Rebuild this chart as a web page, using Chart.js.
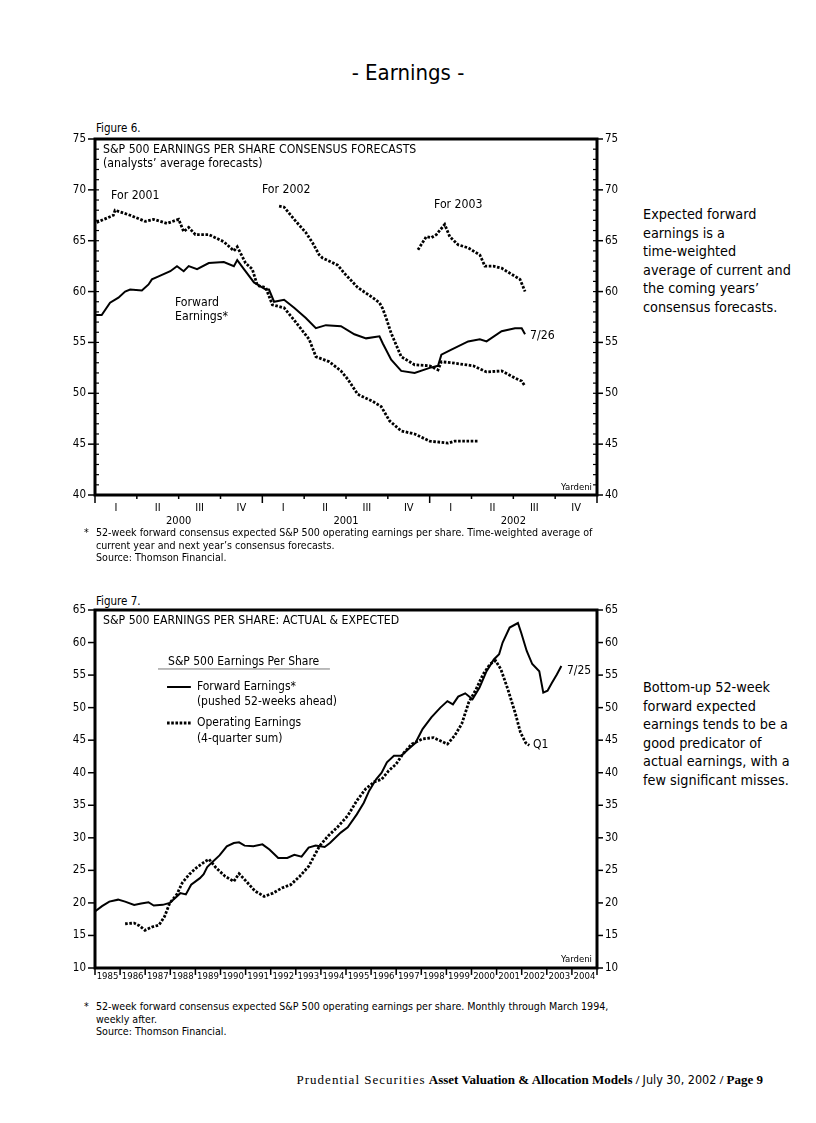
<!DOCTYPE html>
<html>
<head>
<meta charset="utf-8">
<script src="https://cdn.jsdelivr.net/npm/chart.js@4.4.0/dist/chart.umd.min.js"></script>
<style>
  body { margin: 0; background: #fff; color: #000; width: 816px; height: 1123px; position: relative;
         font-family: 'Liberation Sans Narrow', 'DejaVu Sans Condensed', 'Roboto Condensed', sans-serif; }
  .abs { position: absolute; white-space: nowrap; }
  .page-title { left: 0; width: 816px; top: 60px; text-align: center; font-size: 22px; line-height: 26px; }
  .fig-label { left: 96px; font-size: 11.5px; line-height: 14px; }
  .note { left: 84px; font-size: 10.6px; line-height: 12.5px; }
  .note span { display: inline-block; width: 12px; }
  .note div { padding-left: 12px; }
  .side { left: 643px; font-size: 14.3px; line-height: 18.6px; }
  .footer { right: 53px; top: 1072px; font-family: 'Liberation Serif', 'DejaVu Serif', serif; font-size: 13px; line-height: 16px; }
  .footer .sp { letter-spacing: 1px; }
  .footer .nar { font-family: 'Liberation Sans Narrow', 'DejaVu Sans Condensed', sans-serif; font-size: 12.5px; }
  canvas { position: absolute; left: 40px; }
</style>
</head>
<body>
<div class="abs page-title">- Earnings -</div>

<div class="abs fig-label" style="top:121px">Figure 6.</div>
<canvas id="fig6" width="600" height="420" style="top:120px"></canvas>
<div class="abs note" style="top:526px">
  <span>*</span>52-week forward consensus expected S&amp;P 500 operating earnings per share. Time-weighted average of
  <div>current year and next year’s consensus forecasts.</div>
  <div>Source: Thomson Financial.</div>
</div>

<div class="abs fig-label" style="top:594px">Figure 7.</div>
<canvas id="fig7" width="600" height="400" style="top:590px"></canvas>
<div class="abs note" style="top:1000px">
  <span>*</span>52-week forward consensus expected S&amp;P 500 operating earnings per share. Monthly through March 1994,
  <div>weekly after.</div>
  <div>Source: Thomson Financial.</div>
</div>

<div class="abs side" style="top:205px">Expected forward<br>earnings is a<br>time-weighted<br>average of current and<br>the coming years’<br>consensus forecasts.</div>
<div class="abs side" style="top:678px">Bottom-up 52-week<br>forward expected<br>earnings tends to be a<br>good predicator of<br>actual earnings, with a<br>few significant misses.</div>

<div class="abs footer"><span class="sp">Prudential Securities</span> <b>Asset Valuation &amp; Allocation Models /</b> <span class="nar">July 30, 2002</span> <b>/ Page 9</b></div>

<script>
// ---- Figure 6 data (x = fractional year) ----
const quarterLabels = ['I', 'II', 'III', 'IV'];
const fig6Years = ['2000', '2001', '2002'];

const for2001Dates = [2000.01, 2000.11, 2000.12, 2000.21, 2000.30, 2000.35, 2000.43, 2000.50, 2000.53, 2000.56, 2000.60, 2000.68, 2000.77, 2000.83, 2000.85, 2000.90, 2000.94, 2000.97, 2001.02, 2001.06, 2001.13, 2001.19, 2001.28, 2001.32, 2001.40, 2001.47, 2001.51, 2001.57, 2001.66, 2001.71, 2001.76, 2001.83, 2001.91, 2002.00, 2002.11, 2002.15, 2002.29];
const for2001Values = [66.8, 67.5, 68.0, 67.5, 66.9, 67.1, 66.7, 67.1, 65.9, 66.3, 65.6, 65.6, 64.9, 64.0, 64.4, 62.8, 62.2, 60.6, 60.4, 58.7, 58.4, 57.2, 55.3, 53.6, 53.1, 52.2, 51.4, 49.9, 49.2, 48.7, 47.3, 46.3, 46.0, 45.3, 45.1, 45.3, 45.3];

const for2002Dates = [2001.10, 2001.13, 2001.17, 2001.19, 2001.26, 2001.30, 2001.34, 2001.36, 2001.45, 2001.49, 2001.57, 2001.66, 2001.70, 2001.72, 2001.74, 2001.77, 2001.83, 2001.91, 2002.00, 2002.05, 2002.07, 2002.13, 2002.26, 2002.34, 2002.43, 2002.51, 2002.55, 2002.57];
const for2002Values = [68.4, 68.3, 67.5, 67.1, 65.8, 64.8, 63.6, 63.3, 62.6, 61.8, 60.4, 59.4, 58.9, 58.3, 57.4, 55.9, 53.6, 52.8, 52.7, 52.3, 53.1, 53.0, 52.7, 52.1, 52.2, 51.5, 51.2, 50.7];

const for2003Dates = [2001.93, 2001.98, 2002.01, 2002.04, 2002.09, 2002.12, 2002.17, 2002.23, 2002.30, 2002.33, 2002.38, 2002.43, 2002.51, 2002.54, 2002.57];
const for2003Values = [64.1, 65.4, 65.3, 65.6, 66.6, 65.4, 64.6, 64.3, 63.6, 62.5, 62.5, 62.3, 61.5, 61.2, 60.0];

const fwd6Dates = [2000.00, 2000.04, 2000.09, 2000.14, 2000.18, 2000.21, 2000.28, 2000.32, 2000.34, 2000.38, 2000.45, 2000.49, 2000.53, 2000.56, 2000.61, 2000.68, 2000.77, 2000.83, 2000.85, 2000.89, 2000.95, 2001.02, 2001.04, 2001.07, 2001.13, 2001.19, 2001.26, 2001.32, 2001.38, 2001.47, 2001.55, 2001.62, 2001.70, 2001.72, 2001.77, 2001.83, 2001.91, 2002.00, 2002.05, 2002.07, 2002.13, 2002.23, 2002.30, 2002.34, 2002.43, 2002.51, 2002.55, 2002.57];
const fwd6Values = [57.7, 57.7, 58.9, 59.4, 60.0, 60.2, 60.1, 60.7, 61.2, 61.5, 62.0, 62.5, 62.0, 62.5, 62.2, 62.8, 62.9, 62.5, 63.1, 62.2, 60.9, 60.2, 60.2, 59.0, 59.2, 58.4, 57.4, 56.4, 56.7, 56.6, 55.8, 55.4, 55.6, 54.9, 53.3, 52.2, 52.0, 52.5, 52.7, 53.8, 54.3, 55.1, 55.3, 55.1, 56.1, 56.4, 56.4, 55.8];

// ---- Figure 7 data ----
const fig7Years = ['1985', '1986', '1987', '1988', '1989', '1990', '1991', '1992', '1993', '1994', '1995', '1996', '1997', '1998', '1999', '2000', '2001', '2002', '2003', '2004'];

const fwd7Dates = [1985.0, 1985.28, 1985.57, 1985.92, 1986.2, 1986.56, 1986.84, 1987.13, 1987.34, 1987.7, 1987.98, 1988.26, 1988.4, 1988.62, 1988.83, 1989.18, 1989.33, 1989.47, 1989.68, 1989.96, 1990.25, 1990.53, 1990.74, 1990.96, 1991.31, 1991.67, 1991.95, 1992.3, 1992.66, 1992.94, 1993.23, 1993.51, 1993.79, 1994.15, 1994.36, 1994.79, 1995.07, 1995.43, 1995.71, 1995.92, 1996.2, 1996.42, 1996.63, 1996.91, 1997.2, 1997.48, 1997.77, 1998.05, 1998.4, 1998.76, 1999.04, 1999.26, 1999.47, 1999.75, 2000.04, 2000.32, 2000.6, 2000.89, 2001.1, 2001.24, 2001.52, 2001.85, 2001.98, 2002.2, 2002.42, 2002.7, 2002.86, 2003.03, 2003.2, 2003.4, 2003.58];
const fwd7Values = [18.7, 19.5, 20.2, 20.5, 20.2, 19.7, 19.9, 20.1, 19.6, 19.7, 20.0, 21.0, 21.5, 21.3, 22.8, 23.8, 24.4, 25.5, 26.3, 27.3, 28.7, 29.2, 29.3, 28.8, 28.7, 29.0, 28.2, 26.9, 26.9, 27.4, 27.1, 28.5, 28.8, 28.6, 29.2, 30.8, 31.6, 33.6, 35.4, 37.2, 39.0, 40.0, 41.6, 42.6, 42.6, 43.6, 44.6, 46.7, 48.5, 50.0, 51.0, 50.5, 51.7, 52.2, 51.3, 53.1, 55.6, 57.4, 58.2, 60.0, 62.3, 63.0, 61.5, 58.7, 56.7, 55.6, 52.3, 52.6, 53.8, 55.1, 56.4];

const oper7Dates = [1986.2, 1986.56, 1986.77, 1986.99, 1987.27, 1987.55, 1987.77, 1987.98, 1988.26, 1988.48, 1988.76, 1989.04, 1989.4, 1989.54, 1989.82, 1990.18, 1990.53, 1990.74, 1991.03, 1991.38, 1991.74, 1992.09, 1992.45, 1992.8, 1993.16, 1993.51, 1993.94, 1994.29, 1994.65, 1995.07, 1995.43, 1995.78, 1996.13, 1996.42, 1996.7, 1996.99, 1997.27, 1997.62, 1998.05, 1998.48, 1998.76, 1999.04, 1999.33, 1999.61, 1999.89, 2000.18, 2000.46, 2000.74, 2000.96, 2001.17, 2001.45, 2001.74, 2001.95, 2002.16, 2002.3];
const oper7Values = [16.8, 16.9, 16.5, 15.8, 16.3, 16.6, 17.9, 20.0, 21.3, 23.1, 24.4, 25.4, 26.4, 26.7, 25.4, 24.1, 23.3, 24.5, 23.3, 21.8, 21.0, 21.5, 22.3, 22.8, 24.1, 25.6, 28.7, 30.3, 31.6, 33.4, 35.7, 37.5, 38.6, 39.0, 40.3, 41.3, 42.9, 44.4, 45.2, 45.4, 44.9, 44.4, 45.7, 47.5, 50.8, 52.8, 55.1, 56.7, 57.2, 55.9, 52.8, 49.2, 46.2, 44.6, 44.2];

const FONT = "'Liberation Sans Narrow', 'DejaVu Sans Condensed', 'Roboto Condensed', sans-serif";
Chart.defaults.font.family = FONT;
Chart.defaults.color = '#000';

function pts(xs, ys) {
    return xs.map((x, i) => ({ x: x, y: ys[i] }));
}

function solid(label, xs, ys) {
    return { label, data: pts(xs, ys), borderColor: '#000', borderWidth: 2, pointRadius: 0, tension: 0, fill: false };
}

function dotted(label, xs, ys) {
    return { label, data: pts(xs, ys), borderColor: '#000', borderWidth: 2.8, borderDash: [2.6, 1.6], pointRadius: 0, tension: 0, fill: false };
}

// frame, tick marks and in-chart text, all placed through the chart scales
const decorPlugin = {
    id: 'decor',
    afterDatasetsDraw(chart, args, opts) {
        const { ctx, chartArea: a, scales } = chart;
        const xs = scales.x, ys = scales.y;
        const line = (x1, y1, x2, y2) => { ctx.beginPath(); ctx.moveTo(x1, y1); ctx.lineTo(x2, y2); ctx.stroke(); };
        ctx.save();
        ctx.strokeStyle = '#000';
        ctx.lineWidth = 1.2;
        if (opts.minorStep) {
            for (let v = ys.min; v <= ys.max; v += opts.minorStep) {
                const py = ys.getPixelForValue(v);
                line(a.left, py, a.left + 4, py);
                line(a.right - 4, py, a.right, py);
            }
        }
        ctx.lineWidth = 1.5;
        for (let v = ys.min; v <= ys.max; v += opts.majorStep) {
            const py = ys.getPixelForValue(v);
            line(a.left - 7, py, a.left, py);
            line(a.right, py, a.right + 6, py);
        }
        opts.xTicks.forEach(t => {
            const px = xs.getPixelForValue(t.v);
            line(px, a.bottom, px, a.bottom + t.len);
        });
        ctx.lineWidth = 3;
        ctx.strokeRect(a.left, a.top, a.right - a.left, a.bottom - a.top);

        // legend samples
        (opts.samples || []).forEach(s => {
            ctx.lineWidth = s.dash ? 2.8 : 2;
            ctx.setLineDash(s.dash || []);
            line(xs.getPixelForValue(s.x1), ys.getPixelForValue(s.y), xs.getPixelForValue(s.x2), ys.getPixelForValue(s.y));
            ctx.setLineDash([]);
        });
        (opts.rules || []).forEach(s => {
            ctx.lineWidth = 1;
            ctx.strokeStyle = '#777';
            line(xs.getPixelForValue(s.x1), ys.getPixelForValue(s.y), xs.getPixelForValue(s.x2), ys.getPixelForValue(s.y));
            ctx.strokeStyle = '#000';
        });

        ctx.fillStyle = '#000';
        ctx.textBaseline = 'middle';
        (opts.notes || []).forEach(n => {
            ctx.font = n.size + 'px ' + FONT;
            ctx.textAlign = n.align || 'left';
            ctx.fillText(n.text, xs.getPixelForValue(n.x), ys.getPixelForValue(n.y));
        });
        ctx.restore();
    }
};

function fixWidth(w) { return scale => { scale.width = w; }; }
function fixHeight(h) { return scale => { scale.height = h; }; }
function setTicks(values) { return scale => { scale.ticks = values.map(v => ({ value: v })); }; }

// ---------- Figure 6 ----------
const q6Mid = [], q6Edges = [];
for (let i = 0; i < 12; i++) q6Mid.push(2000 + i * 0.25 + 0.125);
for (let i = 0; i <= 12; i++) q6Edges.push({ v: 2000 + i * 0.25, len: i % 4 === 0 ? 8 : 4 });

new Chart(document.getElementById('fig6'), {
    type: 'line',
    data: {
        datasets: [
            dotted('For 2001', for2001Dates, for2001Values),
            dotted('For 2002', for2002Dates, for2002Values),
            dotted('For 2003', for2003Dates, for2003Values),
            solid('Forward Earnings', fwd6Dates, fwd6Values)
        ]
    },
    options: {
        responsive: false,
        animation: false,
        layout: { padding: { top: 19, left: 0, right: 0, bottom: 0 } },
        plugins: {
            legend: { display: false },
            tooltip: { enabled: false },
            decor: {
                minorStep: 1, majorStep: 5, xTicks: q6Edges,
                notes: [
                    { text: 'S&P 500 EARNINGS PER SHARE CONSENSUS FORECASTS', x: 2000.048, y: 73.92, size: 12.2 },
                    { text: '(analysts’ average forecasts)', x: 2000.048, y: 72.54, size: 12.2 },
                    { text: 'For 2001', x: 2000.096, y: 69.40, size: 12.2 },
                    { text: 'For 2002', x: 2000.998, y: 69.99, size: 12.2 },
                    { text: 'For 2003', x: 2002.026, y: 68.51, size: 12.2 },
                    { text: 'Forward', x: 2000.478, y: 58.87, size: 12.2 },
                    { text: 'Earnings*', x: 2000.478, y: 57.50, size: 12.2 },
                    { text: '7/26', x: 2002.600, y: 55.63, size: 12.2 },
                    { text: 'Yardeni', x: 2002.970, y: 40.78, size: 9.5, align: 'right' }
                ]
            }
        },
        scales: {
            x: {
                type: 'linear', min: 2000, max: 2003, position: 'bottom', weight: 0,
                afterBuildTicks: setTicks(q6Mid), afterFit: fixHeight(20),
                grid: { display: false, drawTicks: false }, border: { display: false },
                ticks: { autoSkip: false, maxRotation: 0, padding: 7, font: { size: 11 },
                         callback: (v, i) => quarterLabels[i % 4] }
            },
            xYear: {
                type: 'linear', min: 2000, max: 2003, position: 'bottom', weight: 1,
                afterBuildTicks: setTicks([2000.5, 2001.5, 2002.5]), afterFit: fixHeight(25),
                grid: { display: false, drawTicks: false }, border: { display: false },
                ticks: { autoSkip: false, maxRotation: 0, padding: 0, font: { size: 11 },
                         callback: (v, i) => fig6Years[i] }
            },
            y: {
                min: 40, max: 75, position: 'left', afterFit: fixWidth(55),
                grid: { display: false, drawTicks: false }, border: { display: false },
                ticks: { stepSize: 5, padding: 9, font: { size: 11.5 } }
            },
            y2: {
                min: 40, max: 75, position: 'right', afterFit: fixWidth(43),
                grid: { display: false, drawTicks: false }, border: { display: false },
                ticks: { stepSize: 5, padding: 8, font: { size: 11.5 } }
            }
        }
    },
    plugins: [decorPlugin]
});

// ---------- Figure 7 ----------
const y7Mid = [], y7Edges = [];
for (let i = 0; i < 20; i++) y7Mid.push(1985.5 + i);
for (let i = 0; i <= 20; i++) y7Edges.push({ v: 1985 + i, len: 7 });

new Chart(document.getElementById('fig7'), {
    type: 'line',
    data: {
        datasets: [
            solid('Forward Earnings', fwd7Dates, fwd7Values),
            dotted('Operating Earnings', oper7Dates, oper7Values)
        ]
    },
    options: {
        responsive: false,
        animation: false,
        layout: { padding: { top: 20, left: 0, right: 0, bottom: 0 } },
        plugins: {
            legend: { display: false },
            tooltip: { enabled: false },
            decor: {
                majorStep: 5, xTicks: y7Edges,
                samples: [
                    { x1: 1987.87, x2: 1988.82, y: 53.17 },
                    { x1: 1987.87, x2: 1988.82, y: 47.64, dash: [2.6, 1.6] }
                ],
                rules: [{ x1: 1987.51, x2: 1994.36, y: 55.94 }],
                notes: [
                    { text: 'S&P 500 EARNINGS PER SHARE: ACTUAL & EXPECTED', x: 1985.32, y: 63.31, size: 12.2 },
                    { text: 'S&P 500 Earnings Per Share', x: 1987.91, y: 57.01, size: 12 },
                    { text: 'Forward Earnings*', x: 1989.06, y: 53.17, size: 12 },
                    { text: '(pushed 52-weeks ahead)', x: 1989.06, y: 50.87, size: 12 },
                    { text: 'Operating Earnings', x: 1989.06, y: 47.64, size: 12 },
                    { text: '(4-quarter sum)', x: 1989.06, y: 45.18, size: 12 },
                    { text: '7/25', x: 2003.80, y: 55.63, size: 12 },
                    { text: 'Q1', x: 2002.45, y: 44.26, size: 12 },
                    { text: 'Yardeni', x: 2004.80, y: 11.23, size: 9.5, align: 'right' }
                ]
            }
        },
        scales: {
            x: {
                type: 'linear', min: 1985, max: 2005, position: 'bottom',
                afterBuildTicks: setTicks(y7Mid), afterFit: fixHeight(22),
                grid: { display: false, drawTicks: false }, border: { display: false },
                ticks: { autoSkip: false, maxRotation: 0, padding: 3, font: { size: 9.5 },
                         callback: (v, i) => fig7Years[i] }
            },
            y: {
                min: 10, max: 65, position: 'left', afterFit: fixWidth(55),
                grid: { display: false, drawTicks: false }, border: { display: false },
                ticks: { stepSize: 5, padding: 9, font: { size: 11.5 } }
            },
            y2: {
                min: 10, max: 65, position: 'right', afterFit: fixWidth(43),
                grid: { display: false, drawTicks: false }, border: { display: false },
                ticks: { stepSize: 5, padding: 8, font: { size: 11.5 } }
            }
        }
    },
    plugins: [decorPlugin]
});
</script>
</body>
</html>
